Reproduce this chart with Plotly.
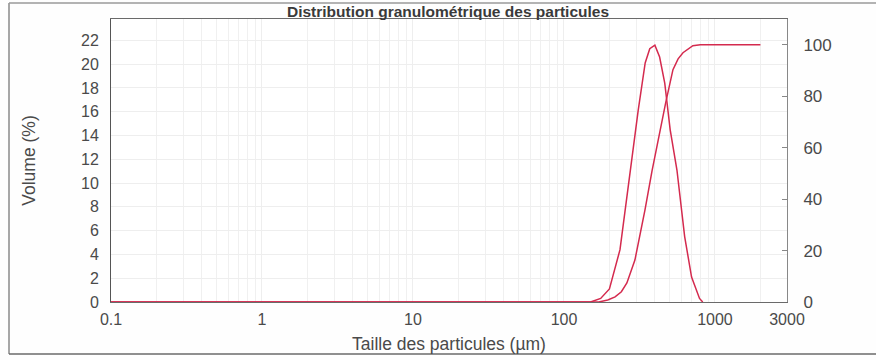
import plotly.graph_objects as go

# Particle size distribution (volume %) – frequency curve
freq_size = [0.1, 150, 175, 200, 235, 265, 290, 310, 345, 370, 400, 430, 465, 505, 560, 630, 700, 790, 830]
freq_vol = [0, 0, 0.3, 1.1, 4.4, 9.4, 13.5, 16.1, 20.1, 21.3, 21.6, 20.6, 18.4, 14.5, 11.1, 5.5, 2.1, 0.3, 0]

# Cumulative undersize curve (%)
cum_size = [0.1, 170, 195, 218, 240, 261, 295, 320, 344, 383, 420, 473, 527, 570, 614, 714, 800, 2000]
cum_pct = [0, 0, 0.8, 2, 4, 7.4, 16.3, 26, 35.8, 51, 63, 77.8, 90.3, 94.5, 96.9, 99.6, 100, 100]

x_ticks = [0.1, 1, 10, 100, 1000, 3000]
x_tick_text = ["0.1", "1", "10", "100", "1000", "3000"]
y_left_ticks = list(range(0, 23, 2))
y_right_ticks = [0, 20, 40, 60, 80, 100]

minor_x = [m * 10 ** e for e in range(-1, 4) for m in range(2, 10) if m * 10 ** e < 3000]

W, H = 876, 360
ML, MR, MT, MB = 111, 89, 19, 58
PW, PH = W - ML - MR, H - MT - MB

LINE = "#d42a4e"
FONT = "Liberation Sans, Arial, sans-serif"
TXT = "#4a4a4a"

fig = go.Figure()
fig.add_trace(go.Scatter(x=freq_size, y=freq_vol, mode="lines",
                         line=dict(color=LINE, width=1.5), yaxis="y", showlegend=False))
fig.add_trace(go.Scatter(x=cum_size, y=cum_pct, mode="lines",
                         line=dict(color=LINE, width=1.5), yaxis="y2", showlegend=False))


def px_x(p):
    return (p - ML) / PW


def px_y(p):
    return (H - MB - p) / PH


fig.update_layout(
    width=W, height=H,
    margin=dict(l=ML, r=MR, t=MT, b=MB),
    paper_bgcolor="#fefefe",
    plot_bgcolor="#ffffff",
    font=dict(family=FONT, size=16, color=TXT),
    title=dict(text="<b>Distribution granulométrique des particules</b>",
               x=448 / W, xanchor="center", y=1 - 12 / H, yanchor="middle",
               font=dict(size=15.5, color="#3a3a3a")),
    xaxis=dict(
        type="log", range=[-1, 3.4771], automargin=False,
        tickvals=x_ticks, ticktext=x_tick_text,
        showgrid=True, gridcolor="#eeeeee", gridwidth=1,
        minor=dict(tickvals=minor_x, showgrid=True, gridcolor="#f0f0f0", ticks=""),
        showline=True, linecolor="#6a6a6a", linewidth=1, mirror=True,
        ticks="", zeroline=False, ticklabelstandoff=3,
        title=dict(text="Taille des particules (µm)", font=dict(size=17.5), standoff=10),
    ),
    yaxis=dict(
        range=[0, 23.8], tickvals=y_left_ticks, automargin=False,
        showgrid=True, gridcolor="#eeeeee", gridwidth=1,
        showline=True, linecolor="#555555", linewidth=1,
        ticks="", zeroline=False, ticklabelstandoff=8,
        title=dict(text="Volume (%)", font=dict(size=17.5), standoff=40),
    ),
    yaxis2=dict(
        range=[0, 110], tickvals=y_right_ticks, automargin=False,
        overlaying="y", side="right",
        showgrid=False, zeroline=False,
        showline=True, linecolor="#888888", linewidth=1,
        ticks="inside", ticklen=5, tickcolor="#888888",
        ticklabelstandoff=12, tickfont=dict(size=17),
    ),
    shapes=[
        # outer frame: left, top and bottom rules
        dict(type="line", xref="paper", yref="paper",
             x0=px_x(9), x1=px_x(9), y0=px_y(3), y1=px_y(354),
             line=dict(color="#8a8a8a", width=1.5)),
        dict(type="line", xref="paper", yref="paper",
             x0=px_x(9), x1=px_x(W), y0=px_y(3), y1=px_y(3),
             line=dict(color="#9a9a9a", width=1.5)),
        dict(type="line", xref="paper", yref="paper",
             x0=px_x(9), x1=px_x(W), y0=px_y(354), y1=px_y(354),
             line=dict(color="#6a6a6a", width=1.5)),
    ],
)

fig.write_html("out.html")
